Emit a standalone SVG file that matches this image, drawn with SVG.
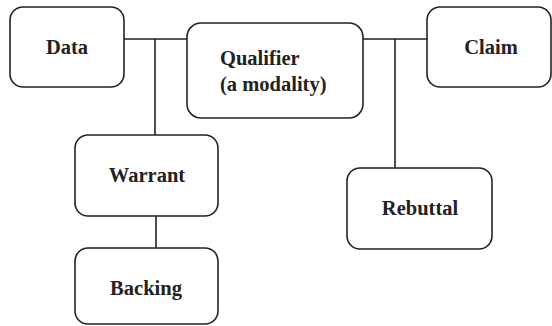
<svg xmlns="http://www.w3.org/2000/svg" width="552" height="326" viewBox="0 0 552 326">
<style>
.box{fill:#fff;stroke:#222;stroke-width:1.6}
.ln{stroke:#222;stroke-width:1.6;fill:none}
text{font-family:"Liberation Serif","Times New Roman",serif;font-weight:bold;font-size:20.5px;fill:#222}
.c{text-anchor:middle}
</style>
<g id="connectors">
<path class="ln" d="M124 39 H187 M155 39 V135 M156 216 V248 M363 39 H427 M395 39 V168"/>
</g>
<g id="data"><rect class="box" x="10" y="7" width="114" height="80" rx="13"/><text class="c" x="67" y="54">Data</text></g>
<g id="qualifier"><rect class="box" x="187" y="23" width="176" height="95" rx="14"/><text x="220" y="65">Qualifier</text><text x="220" y="91">(a modality)</text></g>
<g id="claim"><rect class="box" x="427" y="7" width="124" height="80" rx="13"/><text class="c" x="491" y="54">Claim</text></g>
<g id="warrant"><rect class="box" x="75" y="135" width="143" height="81" rx="13"/><text class="c" x="147" y="182">Warrant</text></g>
<g id="backing"><rect class="box" x="75" y="248" width="143" height="76" rx="13"/><text class="c" x="146" y="295">Backing</text></g>
<g id="rebuttal"><rect class="box" x="347" y="168" width="145" height="81" rx="13"/><text class="c" x="420" y="215">Rebuttal</text></g>
</svg>
